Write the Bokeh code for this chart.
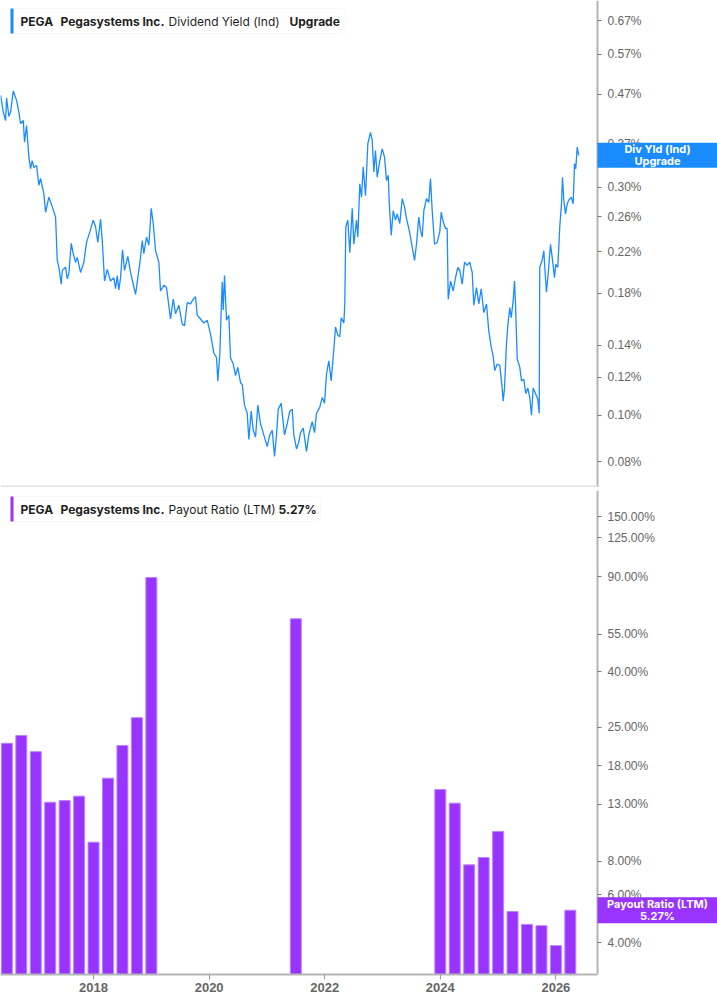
from bokeh.plotting import figure
from bokeh.models import Range1d, FixedTicker, PrintfTickFormatter, Label, BoxAnnotation
from bokeh.layouts import column
from bokeh.embed import file_html
from bokeh.resources import INLINE

TICKER = "PEGA"
COMPANY = "Pegasystems Inc."
TOP_METRIC = "Dividend Yield (Ind)"
TOP_TAG = "Upgrade"
TOP_BOX = ["Div Yld (Ind)", "Upgrade"]
BOT_METRIC = "Payout Ratio (LTM)"
BOT_LAST = "5.27%"
BOT_BOX = ["Payout Ratio (LTM)", "5.27%"]

# Dividend yield (%), dates in decimal years
yield_dates = [
    2016.391, 2016.438, 2016.478, 2016.495, 2016.535, 2016.564, 2016.611, 2016.668, 2016.708, 2016.737,
    2016.784, 2016.806, 2016.841, 2016.881, 2016.910, 2016.939, 2016.967, 2017.014, 2017.054, 2017.083,
    2017.140, 2017.170, 2017.227, 2017.286, 2017.343, 2017.372, 2017.400, 2017.441, 2017.459, 2017.516,
    2017.545, 2017.573, 2017.614, 2017.649, 2017.689, 2017.718, 2017.775, 2017.832, 2017.879, 2017.936,
    2017.995, 2018.035, 2018.074, 2018.121, 2018.151, 2018.190, 2018.237, 2018.294, 2018.351, 2018.381,
    2018.410, 2018.438, 2018.467, 2018.502, 2018.536, 2018.593, 2018.640, 2018.687, 2018.727, 2018.756,
    2018.813, 2018.843, 2018.870, 2018.917, 2018.957, 2018.998, 2019.033, 2019.073, 2019.130, 2019.159,
    2019.216, 2019.263, 2019.332, 2019.379, 2019.419, 2019.476, 2019.535, 2019.574, 2019.621, 2019.678,
    2019.725, 2019.765, 2019.794, 2019.851, 2019.908, 2019.967, 2020.024, 2020.081, 2020.128, 2020.150,
    2020.185, 2020.209, 2020.227, 2020.244, 2020.266, 2020.301, 2020.341, 2020.370, 2020.417, 2020.457,
    2020.496, 2020.543, 2020.573, 2020.612, 2020.659, 2020.687, 2020.728, 2020.763, 2020.803, 2020.843,
    2020.889, 2020.946, 2021.005, 2021.050, 2021.092, 2021.131, 2021.166, 2021.196, 2021.247, 2021.304,
    2021.351, 2021.396, 2021.438, 2021.465, 2021.512, 2021.552, 2021.581, 2021.628, 2021.685, 2021.725,
    2021.784, 2021.824, 2021.858, 2021.915, 2021.957, 2021.997, 2022.031, 2022.071, 2022.112, 2022.157,
    2022.187, 2022.227, 2022.261, 2022.286, 2022.331, 2022.348, 2022.365, 2022.400, 2022.434, 2022.476,
    2022.504, 2022.550, 2022.573, 2022.607, 2022.637, 2022.666, 2022.706, 2022.746, 2022.792, 2022.822,
    2022.850, 2022.879, 2022.908, 2022.953, 2022.995, 2023.035, 2023.069, 2023.099, 2023.116, 2023.151,
    2023.185, 2023.225, 2023.254, 2023.299, 2023.341, 2023.381, 2023.415, 2023.455, 2023.484, 2023.531,
    2023.554, 2023.588, 2023.628, 2023.657, 2023.687, 2023.715, 2023.761, 2023.801, 2023.830, 2023.860,
    2023.900, 2023.946, 2023.991, 2024.016, 2024.050, 2024.090, 2024.119, 2024.137, 2024.177, 2024.223,
    2024.263, 2024.303, 2024.337, 2024.379, 2024.419, 2024.465, 2024.510, 2024.552, 2024.580, 2024.626,
    2024.666, 2024.708, 2024.753, 2024.799, 2024.839, 2024.881, 2024.915, 2024.943, 2024.984, 2025.029,
    2025.071, 2025.088, 2025.111, 2025.145, 2025.168, 2025.202, 2025.227, 2025.261, 2025.284, 2025.301,
    2025.331, 2025.376, 2025.405, 2025.445, 2025.479, 2025.514, 2025.548, 2025.578, 2025.607, 2025.647,
    2025.687, 2025.711, 2025.721, 2025.763, 2025.791, 2025.820, 2025.837, 2025.867, 2025.907, 2025.936,
    2025.976, 2025.998, 2026.033, 2026.067, 2026.097, 2026.114, 2026.137, 2026.166, 2026.196, 2026.223,
    2026.265, 2026.299, 2026.322, 2026.344, 2026.369, 2026.396,
]
yield_values = [
    0.467, 0.431, 0.414, 0.461, 0.422, 0.431, 0.477, 0.456, 0.431, 0.408,
    0.414, 0.373, 0.404, 0.347, 0.328, 0.341, 0.330, 0.333, 0.303, 0.313,
    0.291, 0.266, 0.286, 0.273, 0.260, 0.211, 0.204, 0.188, 0.201, 0.204,
    0.193, 0.198, 0.229, 0.218, 0.209, 0.214, 0.199, 0.209, 0.230, 0.242,
    0.256, 0.248, 0.230, 0.257, 0.232, 0.191, 0.202, 0.191, 0.194, 0.184,
    0.196, 0.183, 0.194, 0.222, 0.201, 0.215, 0.199, 0.188, 0.179, 0.190,
    0.214, 0.232, 0.218, 0.236, 0.227, 0.271, 0.252, 0.221, 0.209, 0.182,
    0.187, 0.185, 0.159, 0.175, 0.163, 0.170, 0.155, 0.154, 0.172, 0.171,
    0.175, 0.177, 0.162, 0.159, 0.156, 0.158, 0.148, 0.135, 0.132, 0.118,
    0.134, 0.166, 0.190, 0.166, 0.196, 0.158, 0.162, 0.132, 0.128, 0.121,
    0.126, 0.117, 0.116, 0.105, 0.101, 0.089, 0.102, 0.093, 0.090, 0.105,
    0.096, 0.091, 0.086, 0.091, 0.093, 0.082, 0.091, 0.103, 0.106, 0.091,
    0.096, 0.102, 0.103, 0.091, 0.085, 0.088, 0.092, 0.094, 0.084, 0.091,
    0.097, 0.092, 0.101, 0.104, 0.109, 0.106, 0.122, 0.130, 0.118, 0.137,
    0.153, 0.147, 0.146, 0.160, 0.156, 0.172, 0.248, 0.256, 0.219, 0.271,
    0.228, 0.256, 0.236, 0.305, 0.286, 0.331, 0.288, 0.370, 0.391, 0.376,
    0.323, 0.358, 0.315, 0.341, 0.361, 0.347, 0.310, 0.318, 0.279, 0.238,
    0.268, 0.256, 0.264, 0.252, 0.284, 0.273, 0.258, 0.246, 0.236, 0.219,
    0.211, 0.228, 0.260, 0.244, 0.236, 0.268, 0.284, 0.279, 0.313, 0.268,
    0.228, 0.230, 0.242, 0.266, 0.254, 0.246, 0.246, 0.175, 0.191, 0.182,
    0.194, 0.204, 0.201, 0.188, 0.209, 0.206, 0.209, 0.199, 0.170, 0.185,
    0.171, 0.184, 0.164, 0.171, 0.150, 0.139, 0.133, 0.124, 0.128, 0.127,
    0.114, 0.107, 0.114, 0.141, 0.154, 0.168, 0.160, 0.174, 0.191, 0.171,
    0.131, 0.126, 0.118, 0.119, 0.111, 0.114, 0.109, 0.100, 0.114, 0.111,
    0.108, 0.101, 0.204, 0.211, 0.221, 0.194, 0.181, 0.198, 0.228, 0.214,
    0.194, 0.207, 0.204, 0.248, 0.277, 0.315, 0.282, 0.264, 0.277, 0.282,
    0.286, 0.277, 0.336, 0.328, 0.364, 0.350,
]

# Payout ratio (%), quarterly
payout_dates = [
    2016.50, 2016.75, 2017.00, 2017.25, 2017.50, 2017.75, 2018.00, 2018.25, 2018.50, 2018.75,
    2019.00, 2021.50, 2024.00, 2024.25, 2024.50, 2024.75, 2025.00, 2025.25, 2025.50, 2025.75,
    2026.00, 2026.25,
]
payout_values = [
    21.8, 23.3, 20.3, 13.2, 13.4, 13.9, 9.4, 16.2, 21.4, 27.1,
    89.3, 62.9, 14.7, 13.1, 7.75, 8.25, 10.3, 5.21, 4.67, 4.62,
    3.90, 5.27,
]

yield_ticks = [0.08, 0.10, 0.12, 0.14, 0.18, 0.22, 0.26, 0.30, 0.34, 0.37, 0.47, 0.57, 0.67]
payout_ticks = [4, 6, 8, 13, 18, 25, 40, 55, 90, 125, 150]
year_ticks = [2018, 2020, 2022, 2024, 2026]
year_labels = ["2018", "2020", "2022", "2024", "2026"]

BLUE = "#1a8cff"
PURPLE = "#9933ff"
AXIS = "#b5b5b5"
TICKC = "#666666"
TXT = "#1f1f1f"
LFONT = "Inter"
TFONT = "Liberation Sans"

FW = 597          # width of the data area (to the y axis line)
RB = 120          # area right of the y axis
W = FW + RB
TOP_FH = 487
BOT_FH = 484

X0, X1 = 2016.39, 2026.72          # data span up to the y axis
XE = X0 + (X1 - X0) * W / FW        # range end incl. the label area
Y1 = (0.0706, 0.738)
Y2 = (3.05, 187.2)


def yval(rng, fh, px_from_top):
    lo, hi = rng
    return hi * (lo / hi) ** (px_from_top / fh)


def style_y(ax, ticks, fmt):
    ax.fixed_location = X1
    ax.ticker = FixedTicker(ticks=ticks)
    ax.formatter = PrintfTickFormatter(format=fmt)
    ax.axis_line_color = AXIS
    ax.axis_line_width = 2
    ax.major_tick_line_color = "#777777"
    ax.major_tick_out = 4
    ax.major_tick_in = 0
    ax.minor_tick_line_color = None
    ax.major_label_text_color = TICKC
    ax.major_label_text_font = TFONT
    ax.major_label_text_font_size = "12px"
    ax.major_label_standoff = 6


def legend(p, rng, fh, color, parts, xs, styles, box_top):
    top = yval(rng, fh, box_top)
    bot = yval(rng, fh, box_top + 25)
    mid = yval(rng, fh, box_top + 12.5)
    p.add_layout(BoxAnnotation(left=10, right=xs[-1] + 8 + len(parts[-1]) * 6.8, top=top, bottom=bot,
                               left_units="screen", right_units="screen",
                               fill_color="white", fill_alpha=1, line_color="#e4e4e4",
                               line_width=1, border_radius=4))
    p.add_layout(BoxAnnotation(left=10, right=13, top=top, bottom=bot,
                               left_units="screen", right_units="screen",
                               fill_color=color, fill_alpha=1, line_color=None))
    for t, x, s in zip(parts, xs, styles):
        p.add_layout(Label(x=x, y=mid, x_units="screen", y_units="data", text=t,
                           text_font=LFONT, text_font_size="12px", text_font_style=s,
                           text_color=TXT, text_align="left", text_baseline="middle"))


def side_box(p, rng, fh, color, last, lines, half):
    lo, hi = rng
    f = (hi / lo) ** (half / fh)
    p.add_layout(BoxAnnotation(left=X1, right=XE, top=last * f, bottom=last / f,
                               fill_color=color, fill_alpha=1, line_color=None))
    for t, off in zip(lines, [6, -6]):
        p.add_layout(Label(x=FW + RB / 2, y=last, x_units="screen", y_units="data", y_offset=off,
                           text=t, text_font=LFONT, text_font_size="11px", text_font_style="bold",
                           text_color="white", text_align="center", text_baseline="middle"))


x_range = Range1d(X0, XE)

p1 = figure(frame_width=W, frame_height=TOP_FH, x_range=x_range, y_range=Range1d(*Y1),
            y_axis_type="log", y_axis_location="right", x_axis_location=None,
            toolbar_location=None, output_backend="svg",
            min_border_left=0, min_border_right=0, min_border_top=0, min_border_bottom=0)
p1.grid.visible = False
p1.outline_line_color = None
style_y(p1.yaxis[0], yield_ticks, "%.2f%%")
p1.line(yield_dates, yield_values, line_color=BLUE, line_width=1.3)
p1.add_layout(BoxAnnotation(left=X0, right=X1, bottom=Y1[0], top=Y1[0] * 1.0097,
                            fill_color="#e2e2e2", fill_alpha=1, line_color=None))
legend(p1, Y1, TOP_FH, BLUE, [TICKER, COMPANY, TOP_METRIC, TOP_TAG], [20, 60, 168, 289],
       ["bold", "bold", "normal", "bold"], 8)
side_box(p1, Y1, TOP_FH, BLUE, yield_values[-1], TOP_BOX, 12.5)

p2 = figure(frame_width=W, frame_height=BOT_FH, x_range=x_range, y_range=Range1d(*Y2),
            y_axis_type="log", y_axis_location="right", x_axis_location="below",
            toolbar_location=None, output_backend="svg",
            min_border_left=0, min_border_right=0, min_border_top=3, min_border_bottom=28)
p2.grid.visible = False
p2.outline_line_color = None
style_y(p2.yaxis[0], payout_ticks, "%.2f%%")
xa = p2.xaxis[0]
xa.bounds = (X0, X1)
xa.ticker = FixedTicker(ticks=year_ticks)
xa.major_label_overrides = {t: l for t, l in zip(year_ticks, year_labels)}
xa.axis_line_color = AXIS
xa.axis_line_width = 2
xa.major_tick_line_color = "#999999"
xa.major_tick_out = 5
xa.major_tick_in = 0
xa.minor_tick_line_color = None
xa.major_label_text_color = TICKC
xa.major_label_text_font = TFONT
xa.major_label_text_font_size = "13px"
xa.major_label_text_font_style = "bold"
xa.major_label_standoff = 3
p2.vbar(x=payout_dates, top=payout_values, bottom=1, width=0.19,
        fill_color=PURPLE, line_color="#b983ff", line_width=1)
legend(p2, Y2, BOT_FH, PURPLE, [TICKER, COMPANY, BOT_METRIC, BOT_LAST], [20, 60, 168, 278],
       ["bold", "bold", "normal", "bold"], 6)
side_box(p2, Y2, BOT_FH, PURPLE, payout_values[-1], BOT_BOX, 13)

layout = column(p1, p2, spacing=0)
open("out.html", "w").write(file_html(layout, INLINE))
